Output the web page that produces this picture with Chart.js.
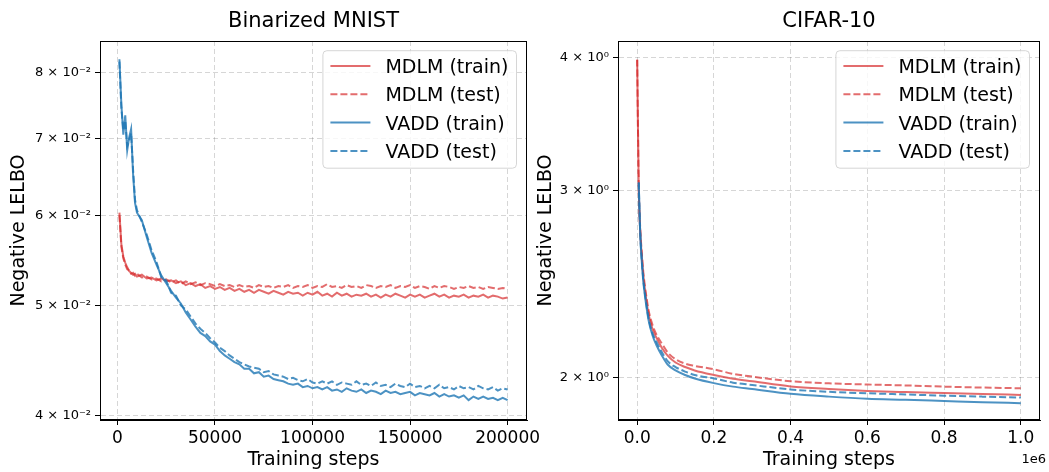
<!DOCTYPE html>
<html>
<head>
<meta charset="utf-8">
<script src="https://cdn.jsdelivr.net/npm/chart.js@4.4.0/dist/chart.umd.min.js"></script>
<style>
  html, body { margin: 0; padding: 0; background: #fff; }
  body { width: 1049px; height: 472px; position: relative; overflow: hidden; }
  canvas { position: absolute; top: 0; }
  #mnist { left: 0; }
  #cifar { left: 520px; }
</style>
</head>
<body>
<canvas id="mnist" width="560" height="472"></canvas>
<canvas id="cifar" width="529" height="472"></canvas>
<script>
// ---- Binarized MNIST ----
const stepsMnist = [
  1000, 2000, 3000, 4000, 5000, 6000, 7000, 8000, 9000, 10000,
  12500, 15000, 17500, 20000, 22500, 25000, 27500, 30000, 32500, 35000,
  37500, 40000, 42500, 45000, 47500, 50000, 52500, 55000, 57500, 60000,
  62500, 65000, 67500, 70000, 72500, 75000, 77500, 80000, 82500, 85000,
  87500, 90000, 92500, 95000, 97500, 100000, 102500, 105000, 107500, 110000,
  112500, 115000, 117500, 120000, 122500, 125000, 127500, 130000, 132500, 135000,
  137500, 140000, 142500, 145000, 147500, 150000, 152500, 155000, 157500, 160000,
  162500, 165000, 167500, 170000, 172500, 175000, 177500, 180000, 182500, 185000,
  187500, 190000, 192500, 195000, 197500, 200000
];
const mdlmTrainMnist = [
  0.0603, 0.0566, 0.0552, 0.0545, 0.0540, 0.0536, 0.0534, 0.0532, 0.0533, 0.0530,
  0.0532, 0.0528, 0.0529, 0.0526, 0.0528, 0.0525, 0.0526, 0.0523, 0.0525, 0.0521,
  0.0523, 0.0520, 0.0522, 0.0518, 0.0520, 0.0517, 0.0519, 0.0516, 0.0518, 0.0515,
  0.0517, 0.0514, 0.0516, 0.0513, 0.0516, 0.0514, 0.0512, 0.0515, 0.0513, 0.0511,
  0.0514, 0.0512, 0.0513, 0.0510, 0.0513, 0.0511, 0.0514, 0.0510, 0.0512, 0.0509,
  0.0513, 0.0510, 0.0512, 0.0509, 0.0511, 0.0510, 0.0512, 0.0509, 0.0511, 0.0508,
  0.0511, 0.0509, 0.0512, 0.0510, 0.0508, 0.0511, 0.0509, 0.0511, 0.0508, 0.0510,
  0.0512, 0.0509, 0.0511, 0.0508, 0.0510, 0.0509, 0.0511, 0.0508, 0.0510, 0.0509,
  0.0511, 0.0508, 0.0510, 0.0509, 0.0507, 0.0508
];
const mdlmTestMnist = [
  0.0600, 0.0563, 0.0550, 0.0543, 0.0538, 0.0537, 0.0533, 0.0534, 0.0531, 0.0533,
  0.0529, 0.0530, 0.0527, 0.0528, 0.0525, 0.0527, 0.0524, 0.0526, 0.0522, 0.0525,
  0.0522, 0.0524, 0.0521, 0.0523, 0.0522, 0.0520, 0.0522, 0.0520, 0.0521, 0.0519,
  0.0521, 0.0519, 0.0520, 0.0518, 0.0521, 0.0519, 0.0520, 0.0518, 0.0520, 0.0519,
  0.0521, 0.0518, 0.0520, 0.0519, 0.0521, 0.0518, 0.0520, 0.0519, 0.0522, 0.0519,
  0.0520, 0.0518, 0.0521, 0.0519, 0.0520, 0.0518, 0.0521, 0.0520, 0.0518, 0.0520,
  0.0519, 0.0521, 0.0518, 0.0520, 0.0519, 0.0521, 0.0518, 0.0520, 0.0519, 0.0517,
  0.0520, 0.0518, 0.0520, 0.0519, 0.0517, 0.0519, 0.0518, 0.0520, 0.0518, 0.0519,
  0.0517, 0.0519, 0.0518, 0.0517, 0.0518, 0.0517
];
const vaddTrainMnist = [
  0.0822, 0.0750, 0.0706, 0.0734, 0.0684, 0.0702, 0.0714, 0.0652, 0.0615, 0.0603,
  0.0594, 0.0574, 0.0556, 0.0543, 0.0531, 0.0523, 0.0515, 0.0508, 0.0502, 0.0493,
  0.0486, 0.0479, 0.0473, 0.0470, 0.0465, 0.0462, 0.0456, 0.0452, 0.0449, 0.0446,
  0.0444, 0.0440, 0.0440, 0.0436, 0.0437, 0.0433, 0.0434, 0.0431, 0.0430, 0.0429,
  0.0427, 0.0426, 0.0427, 0.0424, 0.0425, 0.0423, 0.0424, 0.0422, 0.0424, 0.0421,
  0.0422, 0.0420, 0.0423, 0.0421, 0.0420, 0.0422, 0.0419, 0.0421, 0.0420, 0.0418,
  0.0421, 0.0419, 0.0420, 0.0418, 0.0419, 0.0420, 0.0417, 0.0419, 0.0418, 0.0417,
  0.0419, 0.0416, 0.0418, 0.0416, 0.0417, 0.0415, 0.0417, 0.0413, 0.0416, 0.0414,
  0.0416, 0.0414, 0.0415, 0.0413, 0.0415, 0.0413
];
const vaddTestMnist = [
  0.0818, 0.0745, 0.0712, 0.0726, 0.0690, 0.0698, 0.0708, 0.0658, 0.0619, 0.0606,
  0.0592, 0.0577, 0.0559, 0.0546, 0.0529, 0.0526, 0.0513, 0.0510, 0.0500, 0.0496,
  0.0489, 0.0482, 0.0477, 0.0473, 0.0468, 0.0464, 0.0459, 0.0456, 0.0452, 0.0449,
  0.0446, 0.0444, 0.0442, 0.0441, 0.0440, 0.0437, 0.0438, 0.0435, 0.0434, 0.0433,
  0.0431, 0.0432, 0.0430, 0.0429, 0.0431, 0.0428, 0.0427, 0.0429, 0.0427, 0.0429,
  0.0426, 0.0428, 0.0427, 0.0426, 0.0429, 0.0426, 0.0427, 0.0425, 0.0428, 0.0425,
  0.0426, 0.0424, 0.0427, 0.0425, 0.0424, 0.0427, 0.0424, 0.0425, 0.0423, 0.0425,
  0.0423, 0.0426, 0.0423, 0.0424, 0.0422, 0.0425, 0.0423, 0.0424, 0.0422, 0.0425,
  0.0423, 0.0422, 0.0424, 0.0421, 0.0423, 0.0422
];
const mnistXTicks = [0, 50000, 100000, 150000, 200000];
const mnistXLabels = ['0', '50000', '100000', '150000', '200000'];
const mnistYTicks = [0.04, 0.05, 0.06, 0.07, 0.08];
const mnistYLabels = ['4 × 10⁻²', '5 × 10⁻²', '6 × 10⁻²', '7 × 10⁻²', '8 × 10⁻²'];

// ---- CIFAR-10 ----
const stepsCifar = [
  0, 4000, 8000, 12000, 16000, 20000, 30000, 40000, 50000, 65000, 80000, 100000,
  125000, 150000, 200000, 250000, 300000, 400000, 500000, 600000, 700000, 800000, 900000, 1000000
];
const mdlmTrainCifar = [
  3.98, 3.02, 2.74, 2.60, 2.49, 2.42, 2.29, 2.22, 2.18, 2.13, 2.095, 2.065,
  2.045, 2.03, 2.01, 1.994, 1.983, 1.961, 1.950, 1.942, 1.937, 1.933, 1.929, 1.925
];
const mdlmTestCifar = [
  3.98, 3.04, 2.76, 2.62, 2.51, 2.44, 2.31, 2.24, 2.195, 2.15, 2.11, 2.08,
  2.06, 2.05, 2.035, 2.015, 2.003, 1.983, 1.974, 1.969, 1.965, 1.960, 1.956, 1.953
];
const vaddTrainCifar = [
  null, 3.05, 2.72, 2.57, 2.46, 2.39, 2.26, 2.19, 2.145, 2.095, 2.055, 2.03,
  2.01, 1.995, 1.975, 1.96, 1.95, 1.930, 1.918, 1.909, 1.905, 1.900, 1.895, 1.891
];
const vaddTestCifar = [
  null, 3.05, 2.73, 2.58, 2.47, 2.40, 2.27, 2.20, 2.16, 2.11, 2.07, 2.045,
  2.025, 2.01, 1.995, 1.977, 1.967, 1.948, 1.938, 1.932, 1.927, 1.922, 1.918, 1.914
];
const cifarXTicks = [0, 200000, 400000, 600000, 800000, 1000000];
const cifarXLabels = ['0.0', '0.2', '0.4', '0.6', '0.8', '1.0'];
const cifarYTicks = [2, 3, 4];
const cifarYLabels = ['2 × 10⁰', '3 × 10⁰', '4 × 10⁰'];

const seriesNames = ['MDLM (train)', 'MDLM (test)', 'VADD (train)', 'VADD (test)'];
const RED = 'rgba(214, 39, 40, 0.68)';
const BLUE = 'rgba(31, 119, 180, 0.8)';
const DASH = [7, 3];
const FONT = '"DejaVu Sans", sans-serif';

Chart.defaults.font.family = FONT;
Chart.defaults.color = '#000';

function toPoints(xs, ys) {
  return xs.map((x, i) => ({ x: x, y: ys[i] }));
}

function makeDatasets(xs, series, smooth) {
  const styles = [
    { color: RED, dash: [], order: 4 },
    { color: RED, dash: DASH, order: 3 },
    { color: BLUE, dash: [], order: 2 },
    { color: BLUE, dash: DASH, order: 1 }
  ];
  return series.map((ys, i) => ({
    label: seriesNames[i],
    data: toPoints(xs, ys),
    borderColor: styles[i].color,
    borderDash: styles[i].dash,
    borderWidth: 2,
    pointRadius: 0,
    tension: smooth ? 0.4 : 0,
    cubicInterpolationMode: smooth ? 'monotone' : 'default',
    spanGaps: false,
    order: styles[i].order
  }));
}

// frame, title, legend and offset text
const decorPlugin = {
  id: 'decor',
  afterDraw(chart, args, opts) {
    const ctx = chart.ctx;
    const a = chart.chartArea;
    ctx.save();
    // top / right spines
    ctx.strokeStyle = '#000';
    ctx.lineWidth = 1;
    ctx.strokeRect(Math.round(a.left) + 0.5, Math.round(a.top) + 0.5,
      Math.round(a.right - a.left) - 1, Math.round(a.bottom - a.top) - 1);

    // title
    ctx.fillStyle = '#000';
    ctx.font = '21px ' + FONT;
    ctx.textAlign = 'center';
    ctx.textBaseline = 'alphabetic';
    ctx.fillText(opts.title, (a.left + a.right) / 2, 27);

    // legend
    ctx.font = '19px ' + FONT;
    const sets = chart.data.datasets;
    const textW = Math.max.apply(null, sets.map(d => ctx.measureText(d.label).width));
    const boxW = 7.5 + 40 + 15 + textW + 8;
    const boxH = 117.5;
    const bx = a.right - 10.5 - boxW;
    const by = a.top + 9.7;
    ctx.beginPath();
    ctx.roundRect(bx, by, boxW, boxH, 4);
    ctx.fillStyle = 'rgba(255,255,255,0.8)';
    ctx.fill();
    ctx.strokeStyle = 'rgba(204,204,204,0.8)';
    ctx.lineWidth = 1;
    ctx.stroke();
    sets.forEach((d, i) => {
      const ry = by + 15.3 + i * 28.3;
      ctx.beginPath();
      ctx.setLineDash(d.borderDash || []);
      ctx.strokeStyle = d.borderColor;
      ctx.lineWidth = 2;
      ctx.moveTo(bx + 7.5, ry);
      ctx.lineTo(bx + 47.5, ry);
      ctx.stroke();
      ctx.setLineDash([]);
      ctx.fillStyle = '#000';
      ctx.textAlign = 'left';
      ctx.textBaseline = 'alphabetic';
      ctx.fillText(d.label, bx + 62.5, ry + 6.9);
    });

    // offset text for x axis
    if (opts.offsetText) {
      ctx.font = '13px ' + FONT;
      ctx.textAlign = 'right';
      ctx.fillStyle = '#000';
      ctx.fillText(opts.offsetText, a.right + 6, 463);
    }
    ctx.restore();
  }
};

function makeChart(id, cfg) {
  return new Chart(document.getElementById(id), {
    type: 'line',
    data: { datasets: makeDatasets(cfg.xs, cfg.series, cfg.smooth) },
    options: {
      responsive: false,
      animation: false,
      events: [],
      layout: { padding: { top: 41, right: cfg.padRight, bottom: 0, left: 0 } },
      plugins: {
        legend: { display: false },
        tooltip: { enabled: false },
        decor: { title: cfg.title, offsetText: cfg.offsetText }
      },
      scales: {
        x: {
          type: 'linear',
          min: cfg.xMin,
          max: cfg.xMax,
          afterBuildTicks: s => { s.ticks = cfg.xTicks.map(v => ({ value: v })); },
          afterFit: s => { s.height = 52; },
          ticks: {
            autoSkip: false,
            maxRotation: 0,
            padding: 3,
            font: { size: 17 },
            color: '#000',
            callback: v => cfg.xLabels[cfg.xTicks.indexOf(v)]
          },
          grid: {
            color: 'rgba(0,0,0,0.16)',
            lineWidth: 1,
            tickColor: '#000',
            tickLength: 5,
            tickBorderDash: []
          },
          border: { display: true, color: '#000', width: 1, dash: [5, 3] },
          title: {
            display: true,
            text: 'Training steps',
            font: { size: 19 },
            color: '#000',
            padding: { top: 0, bottom: 1 }
          }
        },
        y: {
          type: 'logarithmic',
          min: cfg.yMin,
          max: cfg.yMax,
          afterBuildTicks: s => { s.ticks = cfg.yTicks.map(v => ({ value: v })); },
          afterFit: s => { s.width = cfg.yWidth; },
          ticks: {
            autoSkip: false,
            padding: 4,
            font: { size: 13 },
            color: '#000',
            callback: v => cfg.yLabels[cfg.yTicks.indexOf(v)]
          },
          grid: {
            color: 'rgba(0,0,0,0.16)',
            lineWidth: 1,
            tickColor: '#000',
            tickLength: 5,
            tickBorderDash: []
          },
          border: { display: true, color: '#000', width: 1, dash: [5, 3] },
          title: {
            display: true,
            text: 'Negative LELBO',
            font: { size: 19 },
            color: '#000',
            padding: { top: cfg.yTitlePad, bottom: 0 }
          }
        }
      }
    },
    plugins: [decorPlugin]
  });
}

makeChart('mnist', {
  title: 'Binarized MNIST',
  xs: stepsMnist,
  series: [mdlmTrainMnist, mdlmTestMnist, vaddTrainMnist, vaddTestMnist],
  smooth: false,
  xMin: -8950, xMax: 209950,
  xTicks: mnistXTicks, xLabels: mnistXLabels,
  yMin: 0.039677, yMax: 0.08528,
  yTicks: mnistYTicks, yLabels: mnistYLabels,
  yWidth: 100, yTitlePad: 8, padRight: 33
});

makeChart('cifar', {
  title: 'CIFAR-10',
  xs: stepsCifar,
  series: [mdlmTrainCifar, mdlmTestCifar, vaddTrainCifar, vaddTestCifar],
  smooth: true,
  xMin: -50000, xMax: 1050000,
  xTicks: cifarXTicks, xLabels: cifarXLabels,
  yMin: 1.8233, yMax: 4.144,
  yTicks: cifarYTicks, yLabels: cifarYLabels,
  yWidth: 98, yTitlePad: 14.5, padRight: 9,
  offsetText: '1e6'
});
</script>
</body>
</html>
